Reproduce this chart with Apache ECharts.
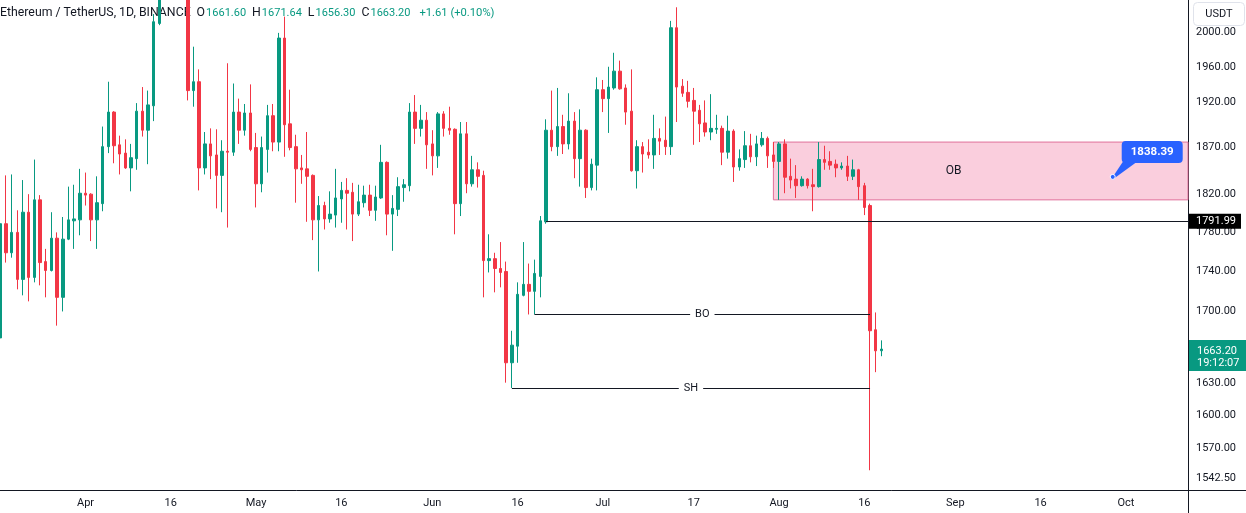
<!DOCTYPE html>
<html>
<head>
<meta charset="utf-8">
<script src="https://cdn.jsdelivr.net/npm/echarts@6/dist/echarts.min.js"></script>
<style>html,body{margin:0;padding:0;background:#fff;}#c{width:1246px;height:513px;}</style>
</head>
<body>
<div id="c"></div>
<script>
// ---------- data ----------
const dates = [
'2023-03-17','2023-03-18','2023-03-19','2023-03-20','2023-03-21','2023-03-22','2023-03-23','2023-03-24','2023-03-25','2023-03-26','2023-03-27','2023-03-28','2023-03-29','2023-03-30','2023-03-31',
'2023-04-01','2023-04-02','2023-04-03','2023-04-04','2023-04-05','2023-04-06','2023-04-07','2023-04-08','2023-04-09','2023-04-10','2023-04-11','2023-04-12','2023-04-13','2023-04-14','2023-04-15','2023-04-16','2023-04-17','2023-04-18','2023-04-19','2023-04-20','2023-04-21','2023-04-22','2023-04-23','2023-04-24','2023-04-25','2023-04-26','2023-04-27','2023-04-28','2023-04-29','2023-04-30',
'2023-05-01','2023-05-02','2023-05-03','2023-05-04','2023-05-05','2023-05-06','2023-05-07','2023-05-08','2023-05-09','2023-05-10','2023-05-11','2023-05-12','2023-05-13','2023-05-14','2023-05-15','2023-05-16','2023-05-17','2023-05-18','2023-05-19','2023-05-20','2023-05-21','2023-05-22','2023-05-23','2023-05-24','2023-05-25','2023-05-26','2023-05-27','2023-05-28','2023-05-29','2023-05-30','2023-05-31',
'2023-06-01','2023-06-02','2023-06-03','2023-06-04','2023-06-05','2023-06-06','2023-06-07','2023-06-08','2023-06-09','2023-06-10','2023-06-11','2023-06-12','2023-06-13','2023-06-14','2023-06-15','2023-06-16','2023-06-17','2023-06-18','2023-06-19','2023-06-20','2023-06-21','2023-06-22','2023-06-23','2023-06-24','2023-06-25','2023-06-26','2023-06-27','2023-06-28','2023-06-29','2023-06-30',
'2023-07-01','2023-07-02','2023-07-03','2023-07-04','2023-07-05','2023-07-06','2023-07-07','2023-07-08','2023-07-09','2023-07-10','2023-07-11','2023-07-12','2023-07-13','2023-07-14','2023-07-15','2023-07-16','2023-07-17','2023-07-18','2023-07-19','2023-07-20','2023-07-21','2023-07-22','2023-07-23','2023-07-24','2023-07-25','2023-07-26','2023-07-27','2023-07-28','2023-07-29','2023-07-30','2023-07-31',
'2023-08-01','2023-08-02','2023-08-03','2023-08-04','2023-08-05','2023-08-06','2023-08-07','2023-08-08','2023-08-09','2023-08-10','2023-08-11','2023-08-12','2023-08-13','2023-08-14','2023-08-15','2023-08-16','2023-08-17','2023-08-18','2023-08-19'
];
const open = [
1674,1789,1759,1780,1732,1801,1734,1814,1750,1741,1774,1714,1773,1792,1793,
1821,1820,1793,1810,1871,1909,1873,1864,1848,1858,1910,1889,1916,2010,2098,2092,2111,2077,2101,1933,1943,1848,1874,1862,1840,1866,1865,1909,1889,1908,
1870,1831,1868,1905,1876,1993,1896,1871,1848,1847,1840,1793,1808,1794,1798,1815,1824,1822,1799,1811,1819,1803,1816,1854,1799,1804,1827,1829,1909,1891,1900,
1874,1861,1907,1891,1890,1810,1885,1831,1846,1840,1751,1753,1743,1740,1650,1666,1716,1727,1720,1735,1791,1889,1871,1893,1874,1899,1858,1889,1827,1851,
1934,1924,1936,1955,1936,1910,1845,1871,1865,1862,1880,1878,1871,2005,1938,1931,1922,1911,1897,1887,1890,1891,1865,1888,1849,1857,1872,1860,1873,1880,1862,
1855,1874,1839,1836,1829,1836,1830,1828,1857,1855,1852,1848,1850,1839,1846,1829,1808,1682,1661.6
];
const high = [
1800,1840,1841,1803,1835,1820,1857,1819,1763,1801,1780,1796,1828,1830,1847,
1843,1821,1839,1893,1943,1910,1883,1879,1874,1919,1937,1933,2021,2125,2110,2136,2120,2142,2110,1983,1957,1887,1891,1890,1878,1964,1941,1924,1918,1940,
1886,1882,1917,1918,1999,2018,1934,1884,1862,1887,1841,1818,1812,1823,1847,1833,1837,1832,1830,1829,1830,1829,1873,1855,1819,1838,1836,1919,1928,1917,1909,
1889,1909,1910,1915,1891,1898,1898,1861,1854,1845,1778,1759,1770,1750,1681,1729,1770,1748,1752,1797,1901,1933,1936,1906,1930,1909,1912,1890,1858,1948,
1945,1960,1976,1967,1940,1957,1878,1876,1879,1906,1891,1904,2013,2029,1946,1944,1936,1917,1922,1929,1906,1894,1905,1890,1868,1888,1885,1883,1887,1882,1876,
1876,1879,1858,1851,1839,1837,1847,1876,1872,1866,1857,1854,1861,1857,1847,1832,1810,1699,1671.64
];
const low = [
1664,1749,1754,1722,1716,1710,1729,1726,1714,1740,1686,1700,1772,1763,1777,
1808,1771,1763,1802,1864,1853,1841,1847,1823,1846,1882,1852,1899,2008,2071,2078,2067,2064,1922,1915,1824,1841,1836,1805,1801,1785,1861,1874,1883,1866,
1806,1822,1843,1866,1866,1860,1867,1811,1831,1791,1772,1740,1783,1790,1785,1790,1783,1771,1797,1806,1797,1792,1815,1777,1761,1797,1812,1823,1874,1882,1847,
1840,1848,1882,1884,1778,1797,1821,1828,1827,1714,1739,1719,1724,1631,1626,1650,1715,1697,1697,1714,1789,1866,1861,1863,1868,1837,1828,1816,1824,1824,
1909,1886,1934,1934,1895,1844,1826,1843,1858,1847,1862,1862,1862,1898,1926,1914,1873,1876,1882,1878,1885,1851,1858,1833,1845,1848,1854,1850,1871,1848,1848,
1814,1821,1826,1816,1828,1826,1802,1827,1846,1846,1838,1846,1834,1835,1814,1798,1550,1641,1656.3
];
const close = [
1789,1759,1780,1732,1801,1734,1814,1749,1741,1774,1714,1773,1793,1794,1821,
1819,1793,1811,1871,1909,1872,1863,1848,1859,1910,1889,1917,2012,2098,2092,2111,2077,2101,1933,1943,1848,1874,1861,1840,1866,1865,1909,1889,1908,1868,
1831,1870,1905,1876,1993,1895,1870,1847,1846,1839,1793,1808,1794,1799,1816,1824,1821,1799,1812,1819,1803,1817,1854,1799,1805,1828,1830,1909,1891,1900,1873,
1861,1907,1891,1889,1810,1885,1831,1846,1839,1751,1753,1743,1739,1650,1667,1717,1727,1720,1738,1792,1889,1871,1893,1874,1899,1858,1889,1827,1852,1934,
1924,1937,1955,1935,1909,1845,1871,1863,1862,1880,1877,1871,2005,1937,1930,1921,1910,1896,1887,1891,1891,1865,1888,1849,1858,1872,1860,1874,1880,1861,1855,
1874,1838,1835,1829,1836,1829,1828,1857,1854,1851,1848,1850,1839,1846,1828,1806,1681,1661.5,1663.2
];
const priceTicks = [2000, 1960, 1920, 1870, 1820, 1780, 1740, 1700, 1630, 1600, 1570, 1542.5];
const dateTicks = ['2023-04-01','2023-04-16','2023-05-01','2023-05-16','2023-06-01','2023-06-16','2023-07-01','2023-07-17','2023-08-01','2023-08-16','2023-09-01','2023-09-16','2023-10-01'];
const monthNames = ['Jan','Feb','Mar','Apr','May','Jun','Jul','Aug','Sep','Oct','Nov','Dec'];
const yRange = [1532.3, 2037.6];
const xRange = ['2023-03-16 23:00', '2023-10-11 22:20'];
const keyLevel = {price: 1791.99, from: '2023-06-21'};
const boLevel = {name: 'BO', price: 1697, from: '2023-06-19', to: '2023-08-17'};
const shLevel = {name: 'SH', price: 1626, from: '2023-06-15', to: '2023-08-17'};
const obZone = {name: 'OB', from: '2023-07-31', top: 1876, bottom: 1814};
const callout = {date: '2023-09-28 16:30', price: 1838.39};
const lastBar = {open: 1661.60, high: 1671.64, low: 1656.30, close: 1663.20, change: 1.61, pct: 0.10, timer: '19:12:07'};

// ---------- helpers ----------
const FONT = 'Roboto, "Liberation Sans", Arial, sans-serif';
const INK = '#131722', UP = '#089981', DOWN = '#F23645';
const T = s => { const m = s.match(/(\d+)-(\d+)-(\d+)(?:[ T](\d+):(\d+))?/); return new Date(+m[1], m[2]-1, +m[3], +(m[4]||0), +(m[5]||0)).getTime(); };
const GRID = {left: 0, right: 58, top: 0, bottom: 23};
const HF = 12.3, VF = 11;

const candles = dates.map((d, i) => [T(d), open[i], close[i], low[i], high[i]]);
const xMin = T(xRange[0]), xMax = T(xRange[1]);

const header = 'Ethereum / TetherUS, 1D, BINANCE' +
  '{k|O}{v|' + lastBar.open.toFixed(2) + '}' +
  '{k|H}{v|' + lastBar.high.toFixed(2) + '}' +
  '{k|L}{v|' + lastBar.low.toFixed(2) + '}' +
  '{k|C}{v|' + lastBar.close.toFixed(2) + '}' +
  '{c|+' + lastBar.change.toFixed(2) + ' (+' + lastBar.pct.toFixed(2) + '%)}';

const levelLabel = name => ({show: true, formatter: name, position: 'insideMiddle', distance: 0,
  color: INK, fontSize: 11, fontFamily: FONT, backgroundColor: '#fff', padding: [1, 5]});

const chart = echarts.init(document.getElementById('c'), null, {renderer: 'canvas'});
chart.setOption({
  animation: false,
  backgroundColor: '#fff',
  title: {
    text: header, left: 0, top: 6, padding: 0, z: 0,
    textStyle: {fontSize: HF, fontWeight: 'normal', color: INK, fontFamily: FONT, lineHeight: 14,
      rich: {
        k: {color: INK, fontSize: HF, fontFamily: FONT, padding: [0, 0, 0, 6]},
        v: {color: UP, fontSize: VF, fontFamily: FONT, padding: [0, 0, 0, 1]},
        c: {color: UP, fontSize: 11.2, fontFamily: FONT, padding: [0, 0, 0, 9]}
      }}
  },
  grid: GRID,
  xAxis: {
    type: 'value', min: xMin, max: xMax, scale: true,
    axisLine: {show: true, onZero: false, lineStyle: {color: INK, width: 1}},
    axisTick: {show: false}, splitLine: {show: false},
    axisLabel: {
      customValues: dateTicks.map(T),
      formatter: v => { const d = new Date(v); return d.getDate() === 1 ? monthNames[d.getMonth()] : String(d.getDate()); },
      margin: 8, color: INK, fontSize: 11, fontFamily: FONT
    }
  },
  yAxis: [
    {type: 'log', logBase: 10, min: yRange[0], max: yRange[1], position: 'right',
     axisLine: {show: true, lineStyle: {color: INK, width: 1}},
     axisTick: {show: false}, axisLabel: {show: false}, splitLine: {show: false}},
    {type: 'value', min: Math.log(yRange[0]), max: Math.log(yRange[1]), position: 'right',
     axisLine: {show: false}, axisTick: {show: false}, splitLine: {show: false},
     axisLabel: {customValues: priceTicks.map(Math.log), formatter: v => Math.exp(v).toFixed(2),
       margin: 8, color: INK, fontSize: 11, fontFamily: FONT}}
  ],
  series: [{
    type: 'candlestick', xAxisIndex: 0, yAxisIndex: 0, z: 2,
    data: candles, barWidth: 3,
    itemStyle: {color: UP, color0: DOWN, borderColor: UP, borderColor0: DOWN, borderWidth: 1},
    markLine: {
      symbol: ['none', 'none'], silent: true, animation: false,
      lineStyle: {color: INK, width: 1, type: 'solid'},
      label: {show: false},
      data: [
        [{coord: [T(keyLevel.from), keyLevel.price]}, {coord: [xMax, keyLevel.price]}],
        [{coord: [T(boLevel.from), boLevel.price], label: levelLabel(boLevel.name)}, {coord: [T(boLevel.to), boLevel.price]}],
        [{coord: [T(shLevel.from), shLevel.price], label: levelLabel(shLevel.name)}, {coord: [T(shLevel.to), shLevel.price]}]
      ]
    },
    markArea: {
      silent: true,
      itemStyle: {color: 'rgba(233,30,99,0.22)', borderColor: '#e0709a', borderWidth: 1},
      label: {show: true, position: 'inside', formatter: obZone.name, color: INK, fontSize: 12, fontFamily: FONT, offset: [-27, 0]},
      data: [[{coord: [T(obZone.from), obZone.top]}, {coord: [xMax, obZone.bottom]}]]
    }
  }]
});

// ---------- overlay annotations (positions derived from the axes) ----------
const W = chart.getWidth(), H = chart.getHeight();
const axX = W - GRID.right, axY = H - GRID.bottom;
const yPix = p => chart.convertToPixel({yAxisIndex: 0}, p);
const yK = yPix(keyLevel.price), yC = yPix(lastBar.close);
const cp = chart.convertToPixel({xAxisIndex: 0, yAxisIndex: 0}, [T(callout.date), callout.price]);
const txt = (x, y, text, color, extra) => Object.assign({type: 'text', x: x, y: y, z: 60, silent: true,
  style: Object.assign({text: text, fill: color, fontSize: 11, fontFamily: FONT, align: 'left', verticalAlign: 'middle'}, extra || {})});
const BLUE = '#2962FF';
chart.setOption({
  graphic: [
    {type: 'line', z: 50, silent: true, shape: {x1: axX, y1: axY + 0.5, x2: W, y2: axY + 0.5}, style: {stroke: INK, lineWidth: 1}},
    {type: 'line', z: 50, silent: true, shape: {x1: axX + 0.5, y1: axY, x2: axX + 0.5, y2: H}, style: {stroke: INK, lineWidth: 1}},
    {type: 'rect', z: 55, silent: true, shape: {x: axX + 5.5, y: 2.5, width: 51, height: 23, r: 4}, style: {fill: '#fff', stroke: '#e0e3eb', lineWidth: 1}},
    txt(axX + 31, 14, 'USDT', INK, {align: 'center'}),
    {type: 'rect', z: 55, silent: true, shape: {x: axX + 1, y: yK - 7, width: 52, height: 15}, style: {fill: '#000'}},
    txt(axX + 8, yK + 0.5, keyLevel.price.toFixed(2), '#fff'),
    {type: 'rect', z: 55, silent: true, shape: {x: axX + 1, y: yC - 9, width: 57, height: 31}, style: {fill: UP}},
    txt(axX + 9, yC + 2.5, lastBar.close.toFixed(2), '#fff'),
    txt(axX + 9, yC + 14, lastBar.timer, '#fff'),
    {type: 'polygon', z: 55, silent: true, shape: {points: [[cp[0], cp[1]], [cp[0] + 10, cp[1] - 15], [cp[0] + 24, cp[1] - 15], [cp[0] + 2, cp[1] + 1]]}, style: {fill: BLUE}},
    {type: 'rect', z: 56, silent: true, shape: {x: cp[0] + 9, y: cp[1] - 36, width: 61, height: 22, r: 4}, style: {fill: BLUE}},
    {type: 'circle', z: 57, silent: true, shape: {cx: cp[0], cy: cp[1], r: 2.5}, style: {fill: BLUE, stroke: '#fff', lineWidth: 1}},
    txt(cp[0] + 39.5, cp[1] - 25, callout.price.toFixed(2), '#fff', {align: 'center', fontWeight: 'bold', fontSize: 11.5})
  ]
});
</script>
</body>
</html>
